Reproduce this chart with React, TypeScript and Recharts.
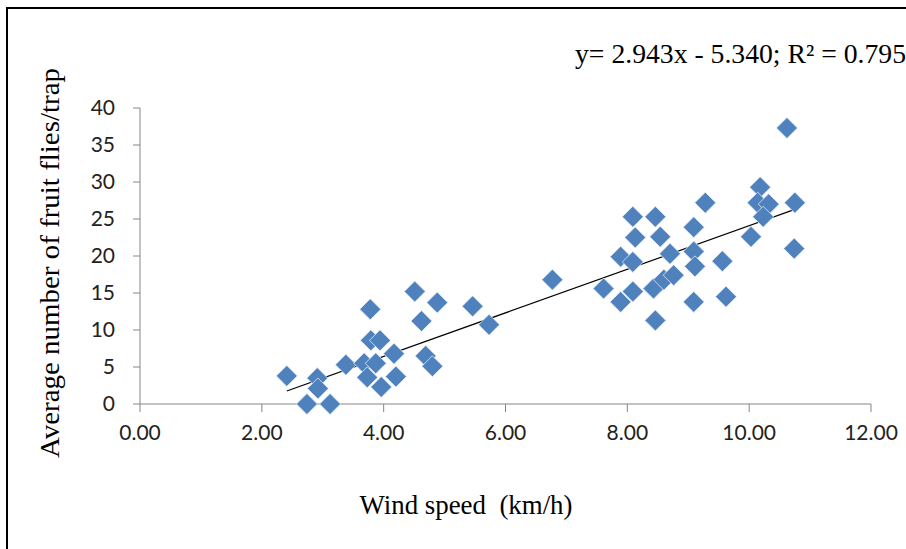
import React from 'react';
import { ScatterChart, Scatter, XAxis, YAxis, ReferenceLine, Customized } from 'recharts';

const windSpeed = [
  2.41, 2.91, 2.92, 2.74, 3.12, 3.38, 3.78, 3.79, 3.94, 3.68, 3.87, 3.73, 3.96, 4.17, 4.2,
  4.51, 4.88, 4.62, 4.69, 4.8, 5.46, 5.73, 6.77, 7.61, 7.89, 8.09, 7.89, 8.09, 8.09, 8.13,
  8.46, 8.54, 8.7, 8.43, 8.6, 8.76, 8.46, 9.09, 9.09, 9.09, 9.11, 9.28, 9.56, 9.62, 10.03,
  10.18, 10.14, 10.32, 10.23, 10.62, 10.75, 10.74,
];
const fliesPerTrap = [
  3.8, 3.5, 2.1, 0, 0, 5.3, 12.8, 8.6, 8.6, 5.5, 5.5, 3.6, 2.3, 6.8, 3.7,
  15.2, 13.7, 11.2, 6.5, 5.1, 13.2, 10.7, 16.8, 15.6, 13.8, 15.2, 19.9, 19.2, 25.3, 22.5,
  25.3, 22.6, 20.3, 15.6, 16.8, 17.4, 11.3, 13.8, 23.9, 20.6, 18.6, 27.2, 19.3, 14.5, 22.6,
  29.3, 27.2, 27.0, 25.3, 37.3, 27.2, 21.0,
];
const xTicks = [0, 2, 4, 6, 8, 10, 12];
const yTicks = [0, 5, 10, 15, 20, 25, 30, 35, 40];
const slope = 2.943;
const intercept = -5.34;
const rSquared = 0.795;
const xTitle = 'Wind speed\u00A0\u00A0(km/h)';
const yTitle = 'Average number of fruit flies/trap';

const points = windSpeed.map((x, i) => ({ x, y: fliesPerTrap[i] }));
const xMin = Math.min(...windSpeed);
const xMax = Math.max(...windSpeed);
const equation = `y= ${slope.toFixed(3)}x - ${Math.abs(intercept).toFixed(3)}; R\u00B2 = ${rSquared.toFixed(3)}`;

const Diamond = (props: any) => {
  const { cx, cy } = props;
  if (cx == null || cy == null) return null;
  const r = 10.5;
  return (
    <polygon
      points={`${cx},${cy - r} ${cx + r},${cy} ${cx},${cy + r} ${cx - r},${cy}`}
      fill="#4F81BD"
      stroke="#e4ecf6"
      strokeWidth={0.8}
      strokeLinejoin="round"
    />
  );
};

const serif = "'Liberation Serif', 'Times New Roman', serif";

const Decorations = () => (
  <g>
    <rect x={7} y={8} width={920} height={560} fill="none" stroke="#000" strokeWidth={2} />
    <text x={575} y={63} fontFamily={serif} fontSize={27} fill="#000" textLength={331} lengthAdjust="spacingAndGlyphs">
      {equation}
    </text>
    <text x={466} y={514} textAnchor="middle" fontFamily={serif} fontSize={28} fill="#000" textLength={213} lengthAdjust="spacingAndGlyphs">
      {xTitle}
    </text>
    <text
      x={0}
      y={0}
      transform="translate(59,263) rotate(-90)"
      textAnchor="middle"
      fontFamily={serif}
      fontSize={28}
      fill="#000"
      textLength={390}
      lengthAdjust="spacingAndGlyphs"
    >
      {yTitle}
    </text>
  </g>
);

const tickStyle = { fontFamily: "Lato, 'Open Sans', sans-serif", fontSize: 21, fill: '#222' };

export default function App() {
  return (
    <div style={{ position: 'absolute', left: 0, top: 0, width: 906, height: 549, background: '#fff', overflow: 'hidden' }}>
      <ScatterChart width={906} height={549} margin={{ top: 108, right: 35, bottom: 105, left: 0 }}>
        <XAxis
          type="number"
          dataKey="x"
          domain={[0, 12]}
          ticks={xTicks}
          tickFormatter={(v: number) => v.toFixed(2)}
          height={40}
          stroke="#868686"
          tickSize={8}
          tickMargin={13}
          tick={tickStyle}
        />
        <YAxis
          type="number"
          dataKey="y"
          domain={[0, 40]}
          ticks={yTicks}
          width={140}
          stroke="#868686"
          tickSize={7}
          tickMargin={18}
          tick={tickStyle}
        />
        <ReferenceLine
          segment={[
            { x: xMin, y: slope * xMin + intercept },
            { x: xMax, y: slope * xMax + intercept },
          ]}
          stroke="#000"
          strokeWidth={1.2}
          ifOverflow="visible"
        />
        <Scatter data={points} shape={<Diamond />} isAnimationActive={false} />
        <Customized component={Decorations} />
      </ScatterChart>
    </div>
  );
}
